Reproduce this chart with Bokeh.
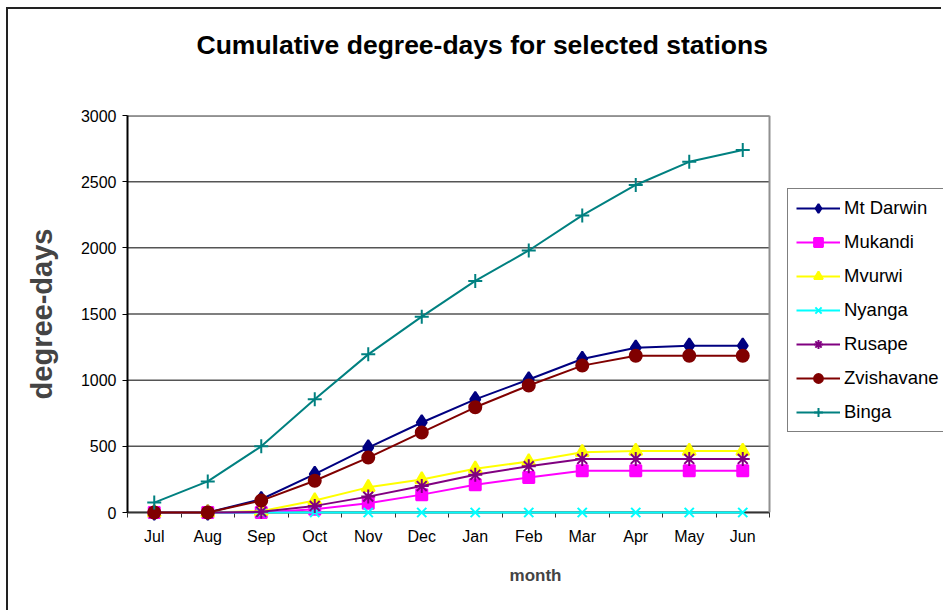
from bokeh.plotting import figure
from bokeh.models import FixedTicker, Legend, LegendItem, Range1d, Span, Title
from bokeh.embed import file_html
from bokeh.resources import INLINE

months = ["Jul", "Aug", "Sep", "Oct", "Nov", "Dec", "Jan", "Feb", "Mar", "Apr", "May", "Jun"]
mt_darwin = [0, 0, 100, 290, 490, 680, 855, 1005, 1160, 1245, 1260, 1260]
mukandi = [0, 0, 0, 25, 70, 135, 210, 265, 315, 315, 315, 315]
mvurwi = [0, 0, 10, 90, 190, 250, 330, 385, 455, 465, 465, 465]
nyanga = [0, 0, 0, 0, 0, 0, 0, 0, 0, 0, 0, 0]
rusape = [0, 0, 5, 50, 120, 200, 285, 350, 405, 405, 405, 405]
zvishavane = [0, 0, 90, 240, 415, 605, 795, 960, 1110, 1185, 1185, 1185]
binga = [75, 235, 500, 855, 1195, 1480, 1750, 1980, 2245, 2475, 2650, 2740]
y_ticks = [0, 500, 1000, 1500, 2000, 2500, 3000]

FONT = "Liberation Sans"
x = list(range(len(months)))
n = len(months)

W, H = 935, 603
LEFT, TOP, BOTTOM = 119, 106, 100
PLOT_W = 642  # width of the category area in px
frame_w = W - LEFT
x_lo, x_hi = -0.5, n - 0.5
x_end = x_lo + frame_w * (x_hi - x_lo) / PLOT_W

p = figure(width=W, height=H, output_backend="svg", toolbar_location=None,
           x_range=Range1d(x_lo, x_end), y_range=Range1d(0, 3000),
           min_border_left=LEFT, min_border_right=0, min_border_top=TOP,
           min_border_bottom=BOTTOM)
p.styles = {"margin-left": "6px", "margin-top": "7px",
            "border-left": "2px solid #222", "border-top": "2px solid #222"}

# titles: empty default title, a spacer, then the real title
p.title.text = ""
spacer = Title(text=" ", text_font_size="10px", standoff=38)
p.add_layout(spacer, "above")
main_title = Title(text="Cumulative degree-days for selected stations",
                   text_font=FONT, text_font_size="26.5px", text_font_style="bold",
                   align="left", offset=69, standoff=10, text_color="black")
p.add_layout(main_title, "above")

p.outline_line_color = None
p.background_fill_color = "white"
p.border_fill_color = "white"

p.xgrid.grid_line_color = None
p.ygrid.grid_line_color = None

# horizontal gridlines across the category area only
p.segment(x0=[x_lo] * len(y_ticks), y0=y_ticks, x1=[x_hi] * len(y_ticks), y1=y_ticks,
          line_color="#555555", line_width=1.5, level="underlay")
p.segment(x0=[x_lo], y0=[y_ticks[-1]], x1=[x_hi], y1=[y_ticks[-1]],
          line_color="#909090", line_width=3, level="underlay")
p.add_layout(Span(location=x_hi, dimension="height", line_color="#909090", line_width=2))

p.yaxis.ticker = FixedTicker(ticks=y_ticks)
p.yaxis.axis_label = "degree-days"
p.yaxis.axis_label_text_font = FONT
p.yaxis.axis_label_text_font_size = "29px"
p.yaxis.axis_label_text_font_style = "bold"
p.yaxis.axis_label_standoff = 20
p.yaxis.major_label_text_font = FONT
p.yaxis.major_label_text_font_size = "16px"
p.yaxis.major_label_text_color = "black"
p.yaxis.major_tick_out = 5
p.yaxis.major_tick_in = 0
p.yaxis.minor_tick_line_color = None
p.yaxis.axis_line_color = "black"
p.yaxis.axis_line_width = 2
p.yaxis.major_label_standoff = 6

p.xaxis.ticker = FixedTicker(ticks=x, minor_ticks=[i - 0.5 for i in range(n + 1)])
p.xaxis.bounds = (x_lo, x_hi)
p.xaxis.major_label_overrides = {i: m for i, m in enumerate(months)}
p.xaxis.axis_label = "month"
p.xaxis.axis_label_text_font = FONT
p.xaxis.axis_label_text_font_size = "17px"
p.xaxis.axis_label_text_font_style = "bold"
p.xaxis.axis_label_standoff = 18
p.xaxis.major_label_text_font = FONT
p.xaxis.major_label_text_font_size = "16px"
p.xaxis.major_label_text_color = "black"
p.xaxis.major_tick_line_color = None
p.xaxis.major_tick_out = 5
p.xaxis.major_tick_in = 0
p.xaxis.minor_tick_out = 5
p.xaxis.minor_tick_in = 0
p.xaxis.minor_tick_line_color = "#333333"
p.xaxis.axis_line_color = "#333333"
p.xaxis.axis_line_width = 2
p.xaxis.major_label_standoff = 10

series = [
    ("Mt Darwin", mt_darwin, "#000080", "diamond", 15),
    ("Mukandi", mukandi, "#FF00FF", "square", 11),
    ("Mvurwi", mvurwi, "#FFFF00", "triangle", 13),
    ("Nyanga", nyanga, "#00FFFF", "x", 13),
    ("Rusape", rusape, "#800080", "asterisk", 14),
    ("Zvishavane", zvishavane, "#800000", "circle", 12),
    ("Binga", binga, "#008080", "cross", 14),
]

items = []
for name, vals, color, marker, size in series:
    lr = p.line(x, vals, line_color=color, line_width=2, level="overlay")
    sr = p.scatter(x, vals, marker=marker, size=size, line_color=color, fill_color=color,
                   line_width=2, level="overlay")
    items.append(LegendItem(label=name, renderers=[lr, sr]))

legend = Legend(items=items, location=(660, 80))
legend.label_text_font = FONT
legend.label_text_font_size = "18.5px"
legend.label_text_color = "black"
legend.glyph_width = 44
legend.glyph_height = 22
legend.label_height = 22
legend.label_width = 150
legend.label_standoff = 4
legend.spacing = 12
legend.padding = 8
legend.margin = 0
legend.border_line_color = "black"
legend.border_line_width = 1
legend.background_fill_color = "white"
legend.background_fill_alpha = 1
p.add_layout(legend)

open("out.html", "w").write(file_html(p, INLINE))
